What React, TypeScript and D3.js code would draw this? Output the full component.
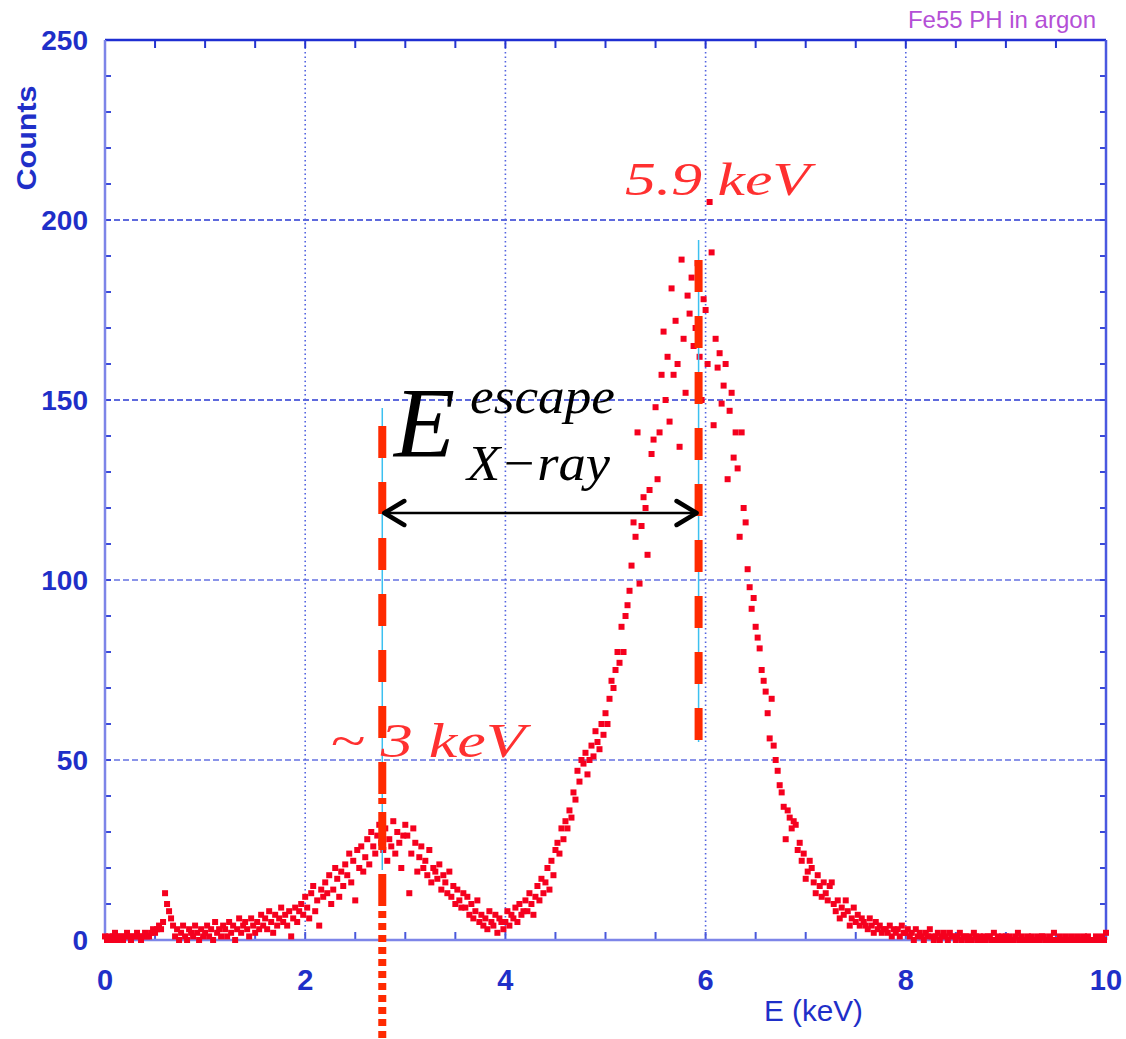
import * as d3 from "d3";

// counts per 0.02 keV bin, one array per keV
const counts0 = [1,0,1,0,1,2,0,1,1,0, 1,2,1,0,1,1,2,1,0,1, 2,1,1,2,3, 2,3,4,3,5, 13,10,8,6,4, 1,3,0,2,4,1,0,3,2,1,4,2,0,3,1];
const counts1 = [2,4,1,3,0,5,2,3,1,4, 3,1,5,2,4,0,3,6,2,4, 5,3,1,6,4,2,5,3,7,4, 6,3,8,5,2,7,4,6,9,5, 7,4,8,1,6,9,5,8,10,7];
const counts2 = [12,9,6,13,15,8,11,4,14,12, 16,13,18,10,14,20,17,12,19,15, 21,18,24,16,22,11,25,20,26,19, 23,28,21,30,26,24,29,32,27,25, 31,22,28,26,33,24,30,27,20,29];
const counts3 = [32,29,13,24,31,27,19,23,26,20, 22,18,25,16,20,19,17,21,14,18, 16,13,19,12,15,10,14,11,9,13, 9,12,7,10,6,8,11,5,7,4, 6,3,8,5,4,7,2,6,5,3];
const counts4 = [5,8,4,7,6,9,5,10,7,8, 11,8,13,10,7,12,15,11,17,13, 16,20,14,22,18,25,27,24,31,28, 33,31,36,34,41,39,47,44,50,49, 52,46,50,54,51,58,55,53,60,57];
const counts5 = [63,60,67,72,70,75,80,77,87,80, 90,93,97,104,116,112,141,99,115,123, 120,107,125,135,139,148,128,141,157,169, 150,162,144,181,157,172,160,137,189,167, 152,179,174,184,165,170,188,162,150,178];
const counts6 = [175,160,205,191,143,167,159,163,149,154, 160,128,147,152,134,141,131,112,141,120, 116,103,98,92,95,87,84,81,75,72, 69,63,56,67,54,50,47,43,41,37, 28,36,34,31,33,32,25,27,22,24];
const counts7 = [17,19,22,20,16,13,18,15,12,16, 13,11,15,16,10,8,11,6,9,7, 11,8,4,6,9,5,7,4,6,5, 4,3,6,4,2,5,3,4,2,3, 3,2,4,1,3,2,3,1,4,2];
const counts8 = [2,3,1,2,0,3,1,2,1,0, 2,1,3,1,0,1,2,0,1,2, 1,0,2,1,1,0,1,2,0,1, 1,0,1,0,2,1,0,1,0,1, 0,1,1,0,2,0,1,0,1,0];
const counts9 = [1,0,1,0,0,1,2,0,1,0, 0,1,0,1,0,0,1,0,1,1, 0,0,1,0,2,0,0,1,0,0, 1,0,0,1,0,0,1,0,0,1, 0,1,0,0,0,1,0,0,1,0, 2];

const binWidth = 0.02;
const xTicks = [0, 2, 4, 6, 8, 10];
const yTicks = [0, 50, 100, 150, 200, 250];

// annotation energies
const escapeE = 2.77;
const peakE = 5.93;

const W = 1126;
const H = 1039;
const x = d3.scaleLinear().domain([0, 10]).range([105, 1106]);
const y = d3.scaleLinear().domain([0, 250]).range([940, 40]);

const points = [counts0, counts1, counts2, counts3, counts4, counts5, counts6, counts7, counts8, counts9]
  .flat()
  .map((c, i) => ({ e: i * binWidth, c }));

const sans = "Arial, 'Liberation Sans', sans-serif";
const serif = "'Times New Roman', 'Liberation Serif', serif";

function Arrow({ x1, x2, yy }: { x1: number; x2: number; yy: number }) {
  const h = 20, v = 12;
  return (
    <g stroke="#000" fill="none" strokeLinecap="round" strokeLinejoin="round">
      <line x1={x1} x2={x2} y1={yy} y2={yy} strokeWidth={2.5} />
      <polyline points={`${x1 + h},${yy - v} ${x1},${yy} ${x1 + h},${yy + v}`} strokeWidth={4.5} />
      <polyline points={`${x2 - h},${yy - v} ${x2},${yy} ${x2 - h},${yy + v}`} strokeWidth={4.5} />
    </g>
  );
}

export default function App() {
  const [x0, x1] = x.range();
  const [y0, y1] = y.range();
  const minorY = y.ticks(25);
  const minorX = x.ticks(20);
  const xl = x(escapeE);
  const xr = x(peakE);
  const ps = 6;

  return (
    <svg width={W} height={H} style={{ position: "absolute", left: 0, top: 0, background: "#fff" }}>
      {/* grid */}
      {yTicks.slice(1, -1).map((t) => (
        <line key={"gy" + t} x1={x0} x2={x1} y1={y(t)} y2={y(t)}
          stroke={t >= 150 ? "#2a3ad2" : "#6472e2"} strokeWidth={1.5} strokeDasharray="6 3" />
      ))}
      {xTicks.slice(1, -1).map((t) => (
        <line key={"gx" + t} x1={x(t)} x2={x(t)} y1={y0} y2={y1}
          stroke="#5464e0" strokeWidth={1.6} strokeDasharray="1.5 3" />
      ))}

      {/* minor ticks */}
      {minorY.map((t) => (
        <g key={"my" + t}>
          <line x1={x0} x2={x0 + 6} y1={y(t)} y2={y(t)} stroke="#3a4ad8" strokeWidth={2} />
          <line x1={x1} x2={x1 - 6} y1={y(t)} y2={y(t)} stroke="#3a4ad8" strokeWidth={2} />
        </g>
      ))}
      {minorX.map((t) => (
        <g key={"mx" + t}>
          <line x1={x(t)} x2={x(t)} y1={y0} y2={y0 - 8} stroke="#4a58dc" strokeWidth={2} />
          <line x1={x(t)} x2={x(t)} y1={y1} y2={y1 + 8} stroke="#2434d0" strokeWidth={2} />
        </g>
      ))}

      {/* frame */}
      <line x1={x0} x2={x1} y1={y1} y2={y1} stroke="#1e2ed2" strokeWidth={2.5} />
      <line x1={x1} x2={x1} y1={y1} y2={y0} stroke="#4a58e0" strokeWidth={2.5} />
      <line x1={x0} x2={x1} y1={y0} y2={y0} stroke="#7d85e8" strokeWidth={2.5} />
      <line x1={x0} x2={x0} y1={y1} y2={y0} stroke="#7d85e8" strokeWidth={2.5} />

      {/* tick labels */}
      {yTicks.map((t) => (
        <text key={"ty" + t} x={88} y={y(t) + 10} textAnchor="end" fontFamily={sans}
          fontWeight="bold" fontSize={28} fill="#1f2fc8">{t}</text>
      ))}
      {xTicks.map((t) => (
        <text key={"tx" + t} x={x(t)} y={990} textAnchor="middle" fontFamily={sans}
          fontWeight="bold" fontSize={29} fill="#1f2fc8">{t}</text>
      ))}
      <text transform="translate(36,138) rotate(-90)" textAnchor="middle" fontFamily={sans}
        fontWeight="bold" fontSize={28} fill="#1f2fc8" textLength={105}
        lengthAdjust="spacingAndGlyphs">Counts</text>
      <text x={764} y={1021} fontFamily={sans} fontSize={30} fill="#1f2fc8"
        textLength={99} lengthAdjust="spacingAndGlyphs">E (keV)</text>
      <text x={1096} y={28} textAnchor="end" fontFamily={sans} fontSize={24} fill="#b44fd6">Fe55 PH in argon</text>

      {/* data */}
      <g fill="#f5001e">
        {points.map((p, i) => (
          <rect key={i} x={x(p.e) - ps / 2} y={y(p.c) - ps / 2} width={ps} height={ps} />
        ))}
      </g>

      {/* annotation lines */}
      <line x1={xl} x2={xl} y1={408} y2={870} stroke="#3cc0f0" strokeWidth={1.5} />
      <line x1={xr} x2={xr} y1={240} y2={742} stroke="#3cc0f0" strokeWidth={1.5} />
      <line x1={xl} x2={xl} y1={426} y2={906} stroke="#ff2a00" strokeWidth={8} strokeDasharray="32 24" />
      <line x1={xl} x2={xl} y1={798} y2={818} stroke="#ff2a00" strokeWidth={8} strokeDasharray="6 8" />
      <line x1={xl} x2={xl} y1={911} y2={H} stroke="#ff2a00" strokeWidth={8} strokeDasharray="7 5" />
      <line x1={xr} x2={xr} y1={260} y2={740} stroke="#ff2a00" strokeWidth={8} strokeDasharray="32 24" />

      <Arrow x1={xl + 2} x2={xr - 2} yy={513} />

      {/* labels */}
      <text x={394} y={456} fontFamily={serif} fontStyle="italic" fontSize={100} fill="#000">E</text>
      <text x={470} y={413} fontFamily={serif} fontStyle="italic" fontSize={50} fill="#000"
        textLength={145} lengthAdjust="spacingAndGlyphs">escape</text>
      <text x={467} y={480} fontFamily={serif} fontStyle="italic" fontSize={50} fill="#000"
        textLength={143} lengthAdjust="spacingAndGlyphs">X−ray</text>
      <text x={625} y={195} fontFamily={serif} fontStyle="italic" fontSize={46} fill="#ff3030"
        textLength={185} lengthAdjust="spacingAndGlyphs">5.9 keV</text>
      <text x={330} y={757} fontFamily={serif} fontStyle="italic" fontSize={48} fill="#ff3030"
        textLength={195} lengthAdjust="spacingAndGlyphs">~ 3 keV</text>
    </svg>
  );
}
